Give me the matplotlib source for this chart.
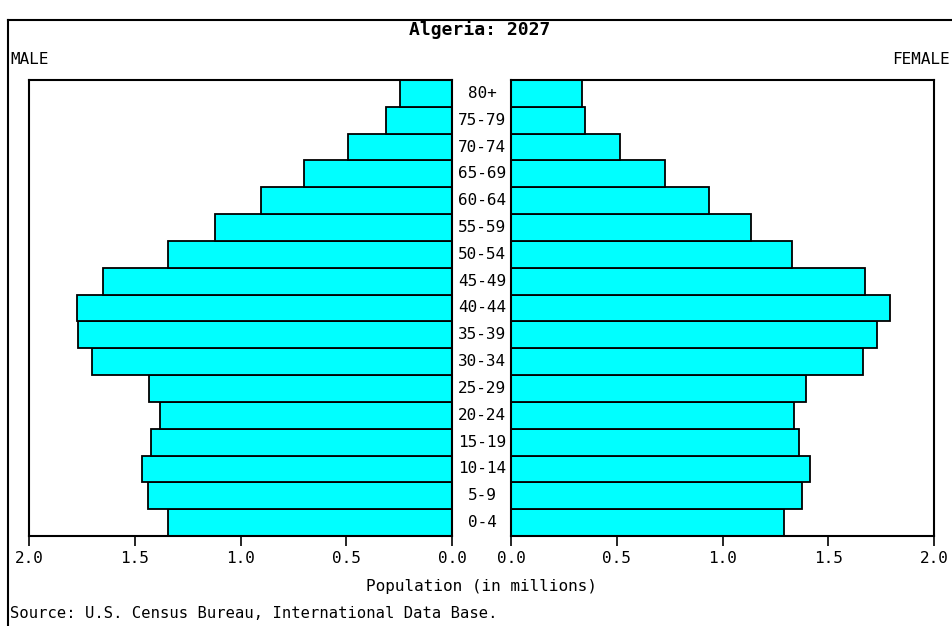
import matplotlib.pyplot as plt
import numpy as np
from matplotlib.lines import Line2D

# --- Datos (millones) ---
grupos = ['0-4', '5-9', '10-14', '15-19', '20-24', '25-29', '30-34', '35-39',
          '40-44', '45-49', '50-54', '55-59', '60-64', '65-69', '70-74',
          '75-79', '80+']
hombres = [1.343, 1.440, 1.469, 1.425, 1.380, 1.432, 1.702, 1.768,
           1.776, 1.650, 1.344, 1.120, 0.902, 0.700, 0.491, 0.312, 0.245]
mujeres = [1.291, 1.374, 1.412, 1.364, 1.336, 1.396, 1.664, 1.732,
           1.792, 1.672, 1.328, 1.136, 0.934, 0.730, 0.514, 0.349, 0.334]
ticks = [0.0, 0.5, 1.0, 1.5, 2.0]

plt.rcParams['font.family'] = ['DejaVu Sans Mono']
fs = 11.5
cian = '#00FFFF'

fig = plt.figure(figsize=(9.52, 6.26), dpi=100)
W, H = 952, 626

def caja(x0, y0, x1, y1):
    return [x0 / W, 1 - y1 / H, (x1 - x0) / W, (y1 - y0) / H]

ax1 = fig.add_axes(caja(29.3, 80, 452, 536))
ax2 = fig.add_axes(caja(511, 80, 934, 536))
y = np.arange(len(grupos))

ax1.barh(y, hombres, height=1.0, color=cian, edgecolor='black', linewidth=1.3)
ax2.barh(y, mujeres, height=1.0, color=cian, edgecolor='black', linewidth=1.3)

for ax in (ax1, ax2):
    ax.set_ylim(-0.5, len(grupos) - 0.5)
    ax.set_yticks([])
    ax.set_xticks(ticks)
    ax.set_xticklabels([f'{t:.1f}' for t in ticks], fontsize=fs)
    ax.tick_params(axis='x', direction='out', length=7, width=1.2, pad=4)
    for s in ax.spines.values():
        s.set_linewidth(1.5)
ax1.set_xlim(2.0, 0.0)
ax2.set_xlim(0.0, 2.0)

# Etiquetas de edad en el hueco central
for i, g in enumerate(grupos):
    yy = 1 - (536 - (i + 0.5) * (456 / len(grupos))) / H
    fig.text(482 / W, yy, g, ha='center', va='center', fontsize=fs)

fig.text(480 / W, 1 - 30 / H, 'Algeria: 2027', ha='center', va='center',
         fontsize=13, fontweight='bold')
fig.text(10 / W, 1 - 60 / H, 'MALE', ha='left', va='center', fontsize=fs)
fig.text(950 / W, 1 - 60 / H, 'FEMALE', ha='right', va='center', fontsize=fs)
fig.text(482 / W, 1 - 586 / H, 'Population (in millions)', ha='center',
         va='center', fontsize=fs)
fig.text(10 / W, 1 - 614 / H, 'Source: U.S. Census Bureau, International Data Base.',
         ha='left', va='center', fontsize=11.2)

# Marco exterior (solo borde izquierdo y superior visibles)
fig.add_artist(Line2D([8 / W, 8 / W], [0, 1 - 20 / H], color='black', lw=1.5))
fig.add_artist(Line2D([8 / W, 1], [1 - 20 / H, 1 - 20 / H], color='black', lw=1.5))

plt.savefig('out.png', dpi=100)
